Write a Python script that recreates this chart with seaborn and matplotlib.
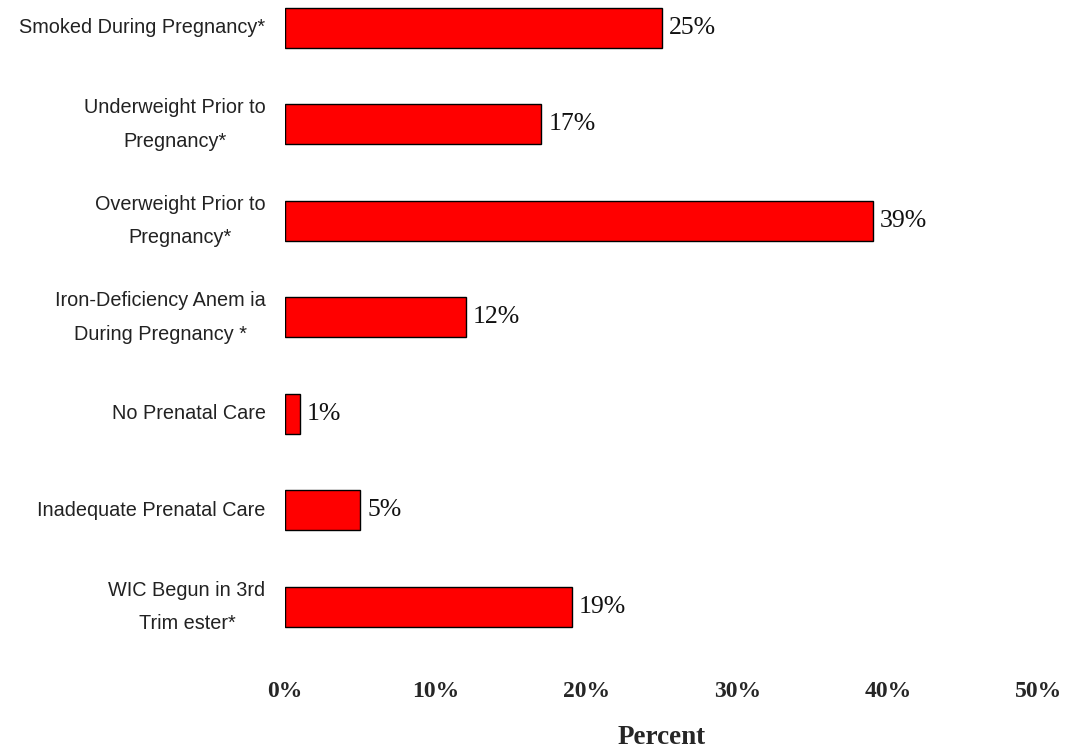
import matplotlib
matplotlib.use("Agg")
import matplotlib.pyplot as plt
import seaborn as sns
import pandas as pd

categories = [
    "Smoked During Pregnancy*",
    "Underweight Prior to\nPregnancy*",
    "Overweight Prior to\nPregnancy*",
    "Iron-Deficiency Anem ia\nDuring Pregnancy *",
    "No Prenatal Care",
    "Inadequate Prenatal Care",
    "WIC Begun in 3rd\nTrim ester*",
]
values = [25, 17, 39, 12, 1, 5, 19]
value_labels = ["25%", "17%", "39%", "12%", "1%", "5%", "19%"]
xticks = [0, 10, 20, 30, 40, 50]
xtick_labels = ["0%", "10%", "20%", "30%", "40%", "50%"]

df = pd.DataFrame({"category": categories, "value": values})

sns.set_theme(style="white")
plt.rcParams["font.family"] = ["Liberation Sans", "DejaVu Sans"]

W, H = 1069, 750
fig = plt.figure(figsize=(W / 100, H / 100), dpi=100)
left, right, top, bottom = 285, 1039, 0, 660
ax = fig.add_axes([left / W, 1 - bottom / H, (right - left) / W, (bottom - top) / H])

sns.barplot(data=df, x="value", y="category", color="#FF0000", saturation=1,
            edgecolor="black", linewidth=1.0, width=0.415, ax=ax)

ax.set_xlim(0, 50)
ax.set_ylim(6.55, -0.29)
for s in ax.spines.values():
    s.set_visible(False)

ax.set_xticks(xticks)
ax.set_xticklabels(xtick_labels, fontfamily="Liberation Serif", fontweight="bold", fontsize=17)
ax.tick_params(axis="x", length=0, pad=15)
ax.tick_params(axis="y", length=0, pad=14)
for t in ax.get_yticklabels():
    t.set_fontsize(14.3)
    t.set_color("#222222")
    t.set_multialignment("center")
    t.set_linespacing(1.95)
    t.set_verticalalignment("center")

ax.set_ylabel("")
ax.set_xlabel("Percent", fontfamily="Liberation Serif", fontweight="bold", fontsize=19.5,
              va="center")
ax.xaxis.set_label_coords(0.5, -0.118)

for i, (v, lab) in enumerate(zip(values, value_labels)):
    ax.annotate(lab, xy=(v, i), xytext=(5, 0), textcoords="offset points",
                va="center", ha="left", fontfamily="Liberation Serif", fontsize=18.5,
                color="#111111")

fig.savefig("out.png", dpi=100)
